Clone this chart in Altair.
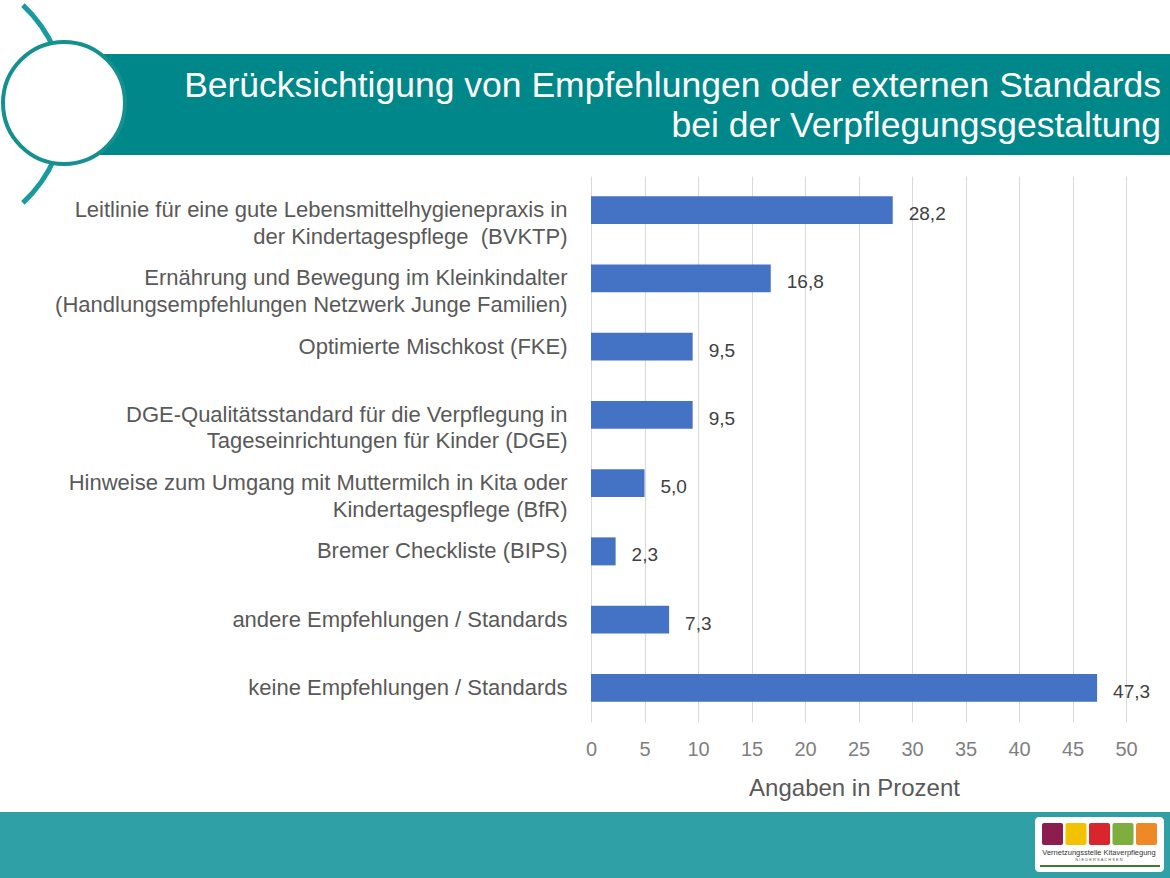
import altair as alt
import pandas as pd

# ---------------- data ----------------
categories = [
    "Leitlinie für eine gute Lebensmittelhygienepraxis in|der Kindertagespflege\u00a0 (BVKTP)",
    "Ernährung und Bewegung im Kleinkindalter|(Handlungsempfehlungen Netzwerk Junge Familien)",
    "Optimierte Mischkost (FKE)",
    "DGE-Qualitätsstandard für die Verpflegung in|Tageseinrichtungen für Kinder (DGE)",
    "Hinweise zum Umgang mit Muttermilch in Kita oder|Kindertagespflege (BfR)",
    "Bremer Checkliste (BIPS)",
    "andere Empfehlungen / Standards",
    "keine Empfehlungen / Standards",
]
values = [28.2, 16.8, 9.5, 9.5, 5.0, 2.3, 7.3, 47.3]
x_ticks = [0, 5, 10, 15, 20, 25, 30, 35, 40, 45, 50]
title_lines = ["Berücksichtigung von Empfehlungen oder externen Standards",
               "bei der Verpflegungsgestaltung"]
axis_title = "Angaben in Prozent"
logo_line1 = "Vernetzungsstelle  Kitaverpflegung"
logo_line2 = "N I E D E R S A C H S E N"

df = pd.DataFrame({"cat": categories, "val": values})

FONT = "Liberation Sans"
TEAL = "#00878A"
TEAL_RING = "#14908F"
TEAL_LIGHT = "#2FA0A6"
BAR = "#4472C4"

# plot-area origin in page pixels
OX, OY = 591, 176
W, H = 535, 546

def px(x):
    return alt.value(x - OX)

def py(y):
    return alt.value(y - OY)

one = alt.Data(values=[{"a": 1}])

x_enc = alt.X(
    "val:Q",
    scale=alt.Scale(domain=[0, 50], nice=False),
    axis=alt.Axis(
        values=x_ticks, grid=True, gridColor="#D9D9D9", gridWidth=1,
        domain=False, ticks=False, labelFontSize=20, labelColor="#7F7F7F",
        labelFont=FONT, labelPadding=17, labelFlush=False,
        title=axis_title, titleFont=FONT,
        titleFontSize=24, titleFontWeight="normal", titleColor="#595959",
        titlePadding=17, titleX=263,
    ),
)
y_enc = alt.Y(
    "cat:N", sort=None,
    scale=alt.Scale(paddingInner=0.59, paddingOuter=0.295),
    axis=alt.Axis(
        labelExpr="split(datum.label, '|')", labelFontSize=22,
        labelColor="#595959", labelFont=FONT, labelPadding=24,
        labelLimit=700, labelLineHeight=26.5, ticks=False, domain=False,
        title=None, grid=False,
    ),
)

bars = alt.Chart(df).mark_bar(color=BAR).encode(x=x_enc, y=y_enc)

labels = alt.Chart(df).transform_calculate(
    txt="replace(format(datum.val, '.1f'), '.', ',')"
).mark_text(align="left", baseline="middle", dx=16, dy=4, fontSize=19,
            font=FONT, color="#404040").encode(
    x="val:Q", y=alt.Y("cat:N", sort=None), text="txt:N")

# ---------------- decorations ----------------
header = alt.Chart(one).mark_rect(color=TEAL).encode(
    x=px(100), x2=px(1170), y=py(54), y2=py(155))

arc = alt.Chart(one).mark_arc(
    radius=137.5, radius2=132.5, theta=0.749, theta2=2.393, color="#189A9E"
).encode(x=px(-69), y=py(104))

circle = alt.Chart(one).mark_point(
    shape="circle", size=14884, fill="white", stroke=TEAL_RING,
    strokeWidth=4, opacity=1, fillOpacity=1, strokeOpacity=1
).encode(x=px(64), y=py(103))

title = alt.Chart(one).mark_text(
    text=title_lines, align="right", baseline="alphabetic", fontSize=35.5,
    font=FONT, color="white", lineHeight=40
).encode(x=px(1161), y=py(97))

footer = alt.Chart(one).mark_rect(color=TEAL_LIGHT).encode(
    x=px(0), x2=px(1170), y=py(812), y2=py(878))

logo_box = alt.Chart(one).mark_rect(color="white", cornerRadius=4).encode(
    x=px(1035), x2=px(1164), y=py(817), y2=py(872))

tile_colors = ["#8C1D4F", "#F2C200", "#D8262C", "#7DAE3E", "#EE8A25"]
tiles = []
for i, c in enumerate(tile_colors):
    x0 = 1042 + i * 23.5
    tiles.append(alt.Chart(one).mark_rect(color=c, cornerRadius=2).encode(
        x=px(x0), x2=px(x0 + 21), y=py(823), y2=py(845)))

logo_t1 = alt.Chart(one).mark_text(
    text=logo_line1, fontSize=7.5, font=FONT, color="#333333",
    align="center", baseline="middle").encode(x=px(1099), y=py(853))
logo_t2 = alt.Chart(one).mark_text(
    text=logo_line2, fontSize=4, font=FONT, color="#555555",
    align="center", baseline="middle").encode(x=px(1099), y=py(860))
logo_line = alt.Chart(one).mark_rect(color="#3E7B2C").encode(
    x=px(1040), x2=px(1160), y=py(865), y2=py(867))

chart = alt.layer(
    footer, header, arc, circle, title, logo_box, *tiles, logo_t1, logo_t2,
    logo_line, bars, labels
).properties(
    width=W, height=H, autosize="none",
    padding={"left": OX, "top": OY, "right": 1170 - OX - W,
             "bottom": 878 - OY - H},
    background="white",
).configure_view(stroke=None)

chart.save("out.html", embed_options={"renderer": "svg", "actions": False})
